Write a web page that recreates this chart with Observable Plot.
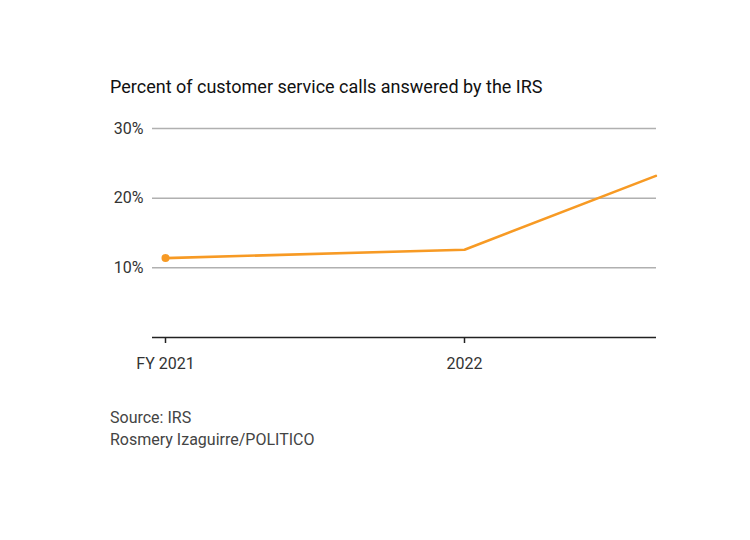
<!DOCTYPE html>
<html><head><meta charset="utf-8">
<script src="https://cdn.jsdelivr.net/npm/d3@7"></script>
<script src="https://cdn.jsdelivr.net/npm/@observablehq/plot@0.6"></script>
<style>
html,body{margin:0;padding:0;background:#fff;}
#wrap{position:relative;width:750px;height:540px;font-family:Roboto,"DejaVu Sans",sans-serif;}
#title{position:absolute;left:110px;top:76px;font-size:18px;color:#111;white-space:nowrap;}
#chart{position:absolute;left:0;top:110px;}
#caption{position:absolute;left:110px;top:407px;font-size:16px;color:#444;line-height:22px;}
</style></head>
<body>
<div id="wrap">
<div id="title">Percent of customer service calls answered by the IRS</div>
<div id="chart"></div>
<div id="caption">Source: IRS<br>Rosmery Izaguirre/POLITICO</div>
</div>
<script>
const years = [2021, 2022, 2022.64];
const pct = [11.4, 12.6, 23.2];
const xTicks = [2021, 2022];
const xTickLabels = ["FY 2021", "2022"];
const yTicks = [10, 20, 30];

const data = years.map((y, i) => ({year: y, value: pct[i]}));
const orange = "#f79a24";

const chart = Plot.plot({
  width: 750,
  height: 270,
  marginLeft: 152,
  marginRight: 94,
  marginTop: 18,
  marginBottom: 43,
  style: {fontFamily: "Roboto, 'DejaVu Sans', sans-serif", fontSize: "15px", color: "#333", background: "transparent"},
  x: {domain: [2021 - 13/299, 2022 + 192/299]},
  y: {domain: [0, 30]},
  marks: [
    Plot.gridY(yTicks, {stroke: "#b0b0b0", strokeOpacity: 1, strokeWidth: 1.5}),
    Plot.ruleY([0], {stroke: "#222", strokeWidth: 1.6}),
    Plot.axisY({ticks: yTicks, tickFormat: d => d + "%", tickSize: 0, tickPadding: 9, fontSize: 16, label: null}),
    Plot.axisX({ticks: xTicks, tickFormat: (d, i) => xTickLabels[xTicks.indexOf(d)], tickSize: 6, tickPadding: 14, fontSize: 16, label: null, stroke: "#222", strokeWidth: 1.5}),
    Plot.line(data, {x: "year", y: "value", stroke: orange, strokeWidth: 2.6}),
    Plot.dot(data.slice(0, 1), {x: "year", y: "value", fill: orange, r: 4})
  ]
});
document.getElementById("chart").appendChild(chart);
</script>
</body></html>
